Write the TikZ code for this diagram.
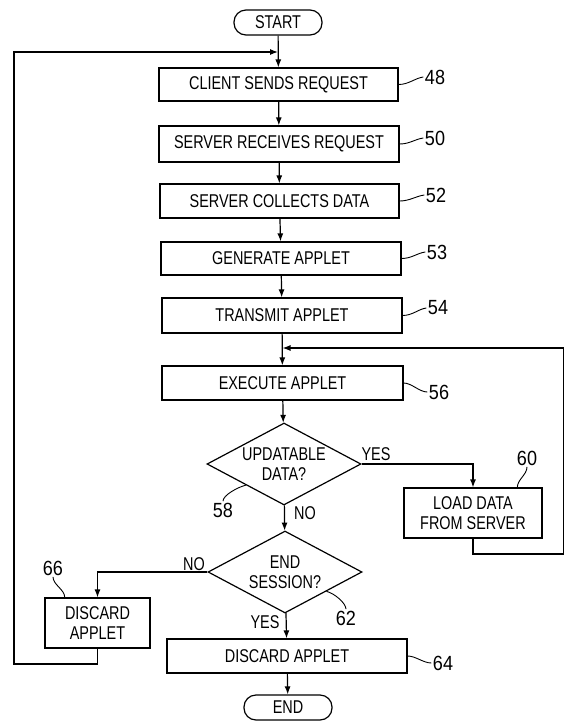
\documentclass[tikz,border=0pt]{standalone}
\usepackage{fontspec}
\setmainfont{Liberation Sans}
\newfontfamily\boxfont[FakeStretch=0.78]{Liberation Sans}
\newfontfamily\numfont[FakeStretch=0.88]{Liberation Sans}
\usetikzlibrary{shapes.geometric,arrows.meta}
\begin{document}
\begin{tikzpicture}[x=1pt,y=-1pt,line width=1.2pt,
  txt/.style={font=\boxfont\fontsize{18.5}{20}\selectfont},
  proc/.style={txt,draw,rectangle,inner sep=0pt,align=center},
  term/.style={txt,draw,rectangle,rounded corners=12pt,minimum width=88pt,minimum height=25pt,inner sep=0pt},
  dec/.style={txt,draw,diamond,minimum width=154pt,minimum height=82pt,inner sep=0pt,aspect=1.88,align=center},
  num/.style={font=\numfont\fontsize{20.5}{22}\selectfont,inner sep=1pt},
  lbl/.style={txt,inner sep=0pt},
  arr/.style={-{Latex[length=8pt,width=6pt]}},
  lead/.style={line width=0.9pt}]
\useasboundingbox (0,0) rectangle (565,721);
\node[term] (start) at (278,22.5) {START};
\node[proc,minimum width=239pt,minimum height=33pt] (b48) at (278.5,84.5) {CLIENT SENDS REQUEST};
\node[proc,minimum width=240pt,minimum height=36pt] (b50) at (279,144) {SERVER RECEIVES REQUEST};
\node[proc,minimum width=239pt,minimum height=34pt] (b52) at (279.5,201) {SERVER COLLECTS DATA};
\node[proc,minimum width=240pt,minimum height=33pt] (b53) at (281,258.5) {GENERATE APPLET};
\node[proc,minimum width=240pt,minimum height=35pt] (b54) at (282,315.5) {TRANSMIT APPLET};
\node[proc,minimum width=241pt,minimum height=34pt] (b56) at (282.5,383) {EXECUTE APPLET};
\node[dec] (d58) at (284,464) {UPDATABLE\\DATA?};
\node[proc,minimum width=138pt,minimum height=50pt] (b60) at (473,513) {LOAD DATA\\FROM SERVER};
\node[dec] (d62) at (285,572) {END\\SESSION?};
\node[proc,minimum width=105pt,minimum height=50pt] (b66) at (97.5,623) {DISCARD\\APPLET};
\node[proc,minimum width=240pt,minimum height=34pt] (b64) at (287,656) {DISCARD APPLET};
\node[term] (end) at (288,707.5) {END};
% junctions and corners
\coordinate (j1) at (278,52);
\coordinate (j2) at (282.5,348);
\coordinate (r1) at (563.5,554);
\coordinate (r2) at (563.5,348);
\coordinate (l1) at (14,664);
\coordinate (l2) at (14,52);
% main flow
\draw[arr] (start) -- (b48);
\draw[arr] (b48) -- (b50);
\draw[arr] (b50) -- (b52);
\draw[arr] (b52) -- (b53);
\draw[arr] (b53) -- (b54);
\draw[arr] (b54) -- (b56);
\draw[arr] (b56) -- (d58);
\draw[arr] (d58) -- (d62);
\draw[arr] (d62) -- (b64);
\draw[arr] (b64) -- (end);
\draw[arr] (d58.east) -| (b60.north);
\draw[arr] (b60.south) |- (r1) -- (r2) -- (j2);
\draw[arr] (d62.west) -| (b66.north);
\draw[arr] (b66.south) |- (l1) -- (l2) -- (j1);
% branch labels
\node[lbl] (yes1) at (376,454) {YES};
\node[lbl] (no1) at (305,513) {NO};
\node[lbl] (no2) at (194,564) {NO};
\node[lbl] (yes2) at (265,622) {YES};
% reference numerals
\node[num] (n48) at (435,77) {48};
\node[num] (n50) at (435,138) {50};
\node[num] (n52) at (436,195) {52};
\node[num] (n53) at (437,252) {53};
\node[num] (n54) at (438,308) {54};
\node[num] (n56) at (439,392) {56};
\node[num] (n60) at (527,458) {60};
\node[num] (n58) at (223,510) {58};
\node[num] (n62) at (346,618) {62};
\node[num] (n66) at (53,568) {66};
\node[num] (n64) at (443,663) {64};
\draw[lead] (b48.east) .. controls +(10,0) and +(-8,1) .. (n48.west);
\draw[lead] (b50.east) .. controls +(10,0) and +(-8,1) .. (n50.west);
\draw[lead] (b52.east) .. controls +(10,0) and +(-8,1) .. (n52.west);
\draw[lead] (b53.east) .. controls +(10,0) and +(-8,1) .. (n53.west);
\draw[lead] (b54.east) .. controls +(10,0) and +(-8,1) .. (n54.west);
\draw[lead] (b56.east) .. controls +(8,0) and +(-8,0) .. (n56.west);
\draw[lead] (b64.east) .. controls +(8,0) and +(-8,0) .. (n64.west);
\draw[lead] (b60.30) .. controls +(0,-8) and +(0,8) .. (n60.south);
\draw[lead] (d58.209) .. controls +(-8,2) and +(0,-6) .. (n58.north);
\draw[lead] (d62.335) .. controls +(8,2) and +(0,-6) .. (n62.north);
\draw[lead] (b66.142) .. controls +(0,-8) and +(0,8) .. (n66.south);
\end{tikzpicture}
\end{document}
